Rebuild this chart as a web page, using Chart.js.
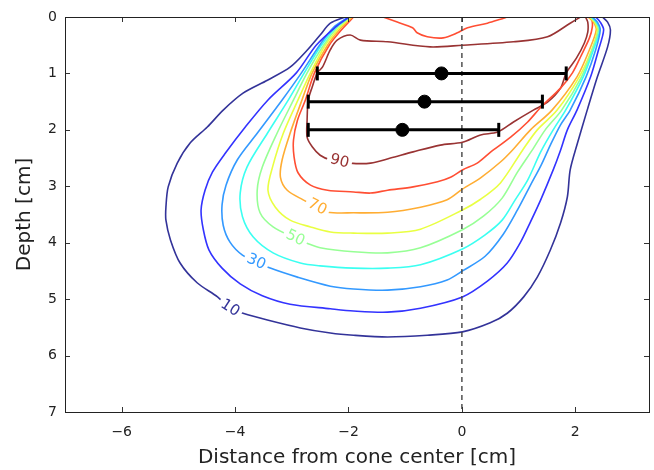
<!DOCTYPE html>
<html>
<head>
<meta charset="utf-8">
<script src="https://cdn.jsdelivr.net/npm/chart.js@4"></script>
<style>
  body { margin: 0; background: #fff; }
</style>
</head>
<body>
<canvas id="doseChart" width="654" height="470"></canvas>
<script>
// axis ticks
const xTicks = [-6, -4, -2, 0, 2];
const yTicks = [0, 1, 2, 3, 4, 5, 6, 7];

// isodose levels [%] and their colours (jet, slightly faded)
const levels = [10, 20, 30, 40, 50, 60, 70, 80, 90];
const levelColors = ['#333399', '#3333ff', '#3399ff', '#3bfff1', '#97ff95', '#e9ff42', '#ffad33', '#ff4e33', '#993333'];

// contour lines: [distance cm, depth cm]
const c10 = [[-2.06,0],[-2.32,0.11],[-2.50,0.32],[-2.73,0.59],[-3.03,0.89],[-3.43,1.12],[-3.86,1.35],[-4.21,1.65],[-4.49,1.95],[-4.79,2.23],[-5.02,2.59],[-5.18,3.01],[-5.22,3.37],[-5.22,3.60],[-5.14,3.95],[-4.97,4.36],[-4.67,4.71],[-4.31,4.96],[-4.09,5.16],[-3.86,5.25],[-3.43,5.37],[-2.85,5.51],[-2.32,5.60],[-1.91,5.64],[-1.31,5.67],[-0.61,5.64],[0.01,5.58],[0.50,5.42],[0.80,5.25],[1.09,4.96],[1.33,4.61],[1.56,4.13],[1.74,3.65],[1.86,3.19],[1.91,2.71],[2.04,2.23],[2.21,1.65],[2.39,1.06],[2.57,0.53],[2.62,0.23],[2.57,0.09],[2.48,0]];
const c20 = [[-1.99,0],[-2.23,0.18],[-2.57,0.50],[-2.92,0.99],[-3.42,1.47],[-3.82,1.95],[-4.17,2.41],[-4.40,2.75],[-4.53,3.07],[-4.60,3.42],[-4.56,3.77],[-4.46,4.13],[-4.23,4.45],[-3.91,4.73],[-3.52,4.94],[-3.03,5.09],[-2.32,5.17],[-1.91,5.21],[-1.31,5.23],[-0.73,5.16],[0.01,4.96],[0.45,4.68],[0.80,4.36],[1.03,4.00],[1.21,3.63],[1.39,3.24],[1.61,2.71],[1.74,2.36],[1.86,2.00],[2.03,1.65],[2.27,1.06],[2.41,0.58],[2.50,0.23],[2.44,0.09],[2.36,0]];
const c30 = [[-2.00,0],[-2.27,0.19],[-2.51,0.50],[-2.83,0.99],[-3.17,1.47],[-3.61,2.06],[-3.96,2.53],[-4.16,2.98],[-4.23,3.33],[-4.21,3.69],[-4.09,3.99],[-3.87,4.22],[-3.61,4.34],[-3.38,4.45],[-2.90,4.61],[-2.32,4.77],[-1.91,4.82],[-1.31,4.84],[-0.73,4.78],[-0.26,4.66],[0.01,4.50],[0.41,4.24],[0.73,3.85],[0.98,3.42],[1.21,2.98],[1.40,2.62],[1.56,2.27],[1.74,1.91],[1.91,1.65],[2.19,1.06],[2.36,0.58],[2.44,0.23],[2.39,0.09],[2.30,0]];
const c40 = [[-1.99,0],[-2.23,0.19],[-2.48,0.50],[-2.78,0.99],[-3.06,1.47],[-3.43,2.06],[-3.79,2.66],[-3.91,3.12],[-3.87,3.54],[-3.68,3.90],[-3.33,4.18],[-2.85,4.36],[-2.50,4.41],[-1.91,4.45],[-1.31,4.45],[-0.73,4.39],[0.01,4.11],[0.41,3.86],[0.71,3.60],[0.94,3.24],[1.16,2.89],[1.39,2.39],[1.61,2.00],[1.83,1.65],[2.14,1.06],[2.32,0.58],[2.43,0.23],[2.37,0.09],[2.29,0]];
const c50 = [[-1.97,0],[-2.20,0.19],[-2.44,0.50],[-2.73,0.99],[-2.97,1.47],[-3.26,2.06],[-3.52,2.66],[-3.61,3.07],[-3.56,3.47],[-3.33,3.72],[-2.94,3.92],[-2.73,4.01],[-2.50,4.09],[-1.91,4.16],[-1.31,4.18],[-0.73,4.09],[0.01,3.77],[0.38,3.53],[0.71,3.21],[0.98,2.75],[1.24,2.36],[1.47,2.00],[1.76,1.65],[2.11,1.06],[2.30,0.58],[2.41,0.23],[2.36,0.09],[2.27,0]];
const c60 = [[-1.95,0],[-2.16,0.19],[-2.41,0.50],[-2.67,0.99],[-2.89,1.47],[-3.15,2.06],[-3.34,2.66],[-3.42,3.07],[-3.29,3.37],[-3.03,3.60],[-2.67,3.72],[-2.32,3.81],[-1.91,3.83],[-1.31,3.83],[-0.73,3.76],[0.01,3.42],[0.33,3.23],[0.68,2.94],[1.07,2.36],[1.33,2.00],[1.68,1.65],[2.07,1.06],[2.29,0.58],[2.39,0.23],[2.34,0.09],[2.25,0]];
const c70 = [[-1.93,0],[-2.13,0.19],[-2.37,0.50],[-2.64,0.99],[-2.82,1.47],[-3.03,2.06],[-3.17,2.53],[-3.20,2.84],[-3.08,3.07],[-2.80,3.24],[-2.55,3.37],[-2.37,3.46],[-1.91,3.47],[-1.31,3.46],[-0.73,3.37],[-0.26,3.24],[0.01,3.05],[0.33,2.85],[0.68,2.57],[0.89,2.36],[1.21,2.00],[1.59,1.65],[2.03,1.06],[2.25,0.58],[2.37,0.23],[2.32,0.09],[2.23,0]];
const c80 = [[-1.91,0],[-2.09,0.19],[-2.34,0.50],[-2.60,0.99],[-2.76,1.47],[-2.90,1.83],[-2.97,2.18],[-2.96,2.48],[-2.89,2.76],[-2.67,2.98],[-2.37,3.07],[-1.91,3.10],[-1.61,3.12],[-1.31,3.07],[-0.86,3.01],[-0.43,2.92],[-0.20,2.84],[0.01,2.71],[0.27,2.59],[0.50,2.40],[0.86,2.13],[1.16,1.86],[1.40,1.59],[1.74,1.26],[1.95,0.99],[2.11,0.67],[2.25,0.37],[2.30,0.18],[2.29,0.05],[2.23,0]];
const c80top = [[-1.39,0],[-1.14,0.09],[-0.87,0.19],[-0.79,0.28],[-0.61,0.35],[-0.33,0.37],[-0.08,0.28],[0.10,0.19],[0.45,0.11],[0.68,0.04],[0.80,0]];
const c90 = [[2.09,0],[1.91,0.11],[1.51,0.35],[0.91,0.44],[0.01,0.50],[-0.56,0.53],[-1.31,0.44],[-1.79,0.41],[-1.97,0.32],[-2.20,0.41],[-2.32,0.58],[-2.46,0.89],[-2.55,0.99],[-2.64,1.24],[-2.71,1.47],[-2.73,1.83],[-2.73,2.13],[-2.64,2.30],[-2.50,2.45],[-2.32,2.53],[-1.97,2.59],[-1.61,2.59],[-1.26,2.50],[-0.86,2.39],[-0.38,2.27],[0.01,2.22],[0.33,2.09],[0.63,2.04],[0.91,1.86],[1.26,1.65],[1.51,1.51],[1.74,1.26],[1.84,0.99],[2.02,0.73],[2.16,0.46],[2.22,0.27],[2.22,0.09],[2.18,0]];

// inline contour labels: [level, distance, depth]
const contourLabels = [[10, -4.09, 5.16], [30, -3.63, 4.34], [50, -2.94, 3.92], [70, -2.55, 3.37], [90, -2.16, 2.56]];

// measured depths with mean and range
const barDepth = [1.0, 1.5, 2.0];
const barMean = [-0.36, -0.66, -1.05];
const barLow = [-2.55, -2.71, -2.71];
const barHigh = [1.84, 1.42, 0.65];

const contourSets = [
  { level: 10, pts: c10 }, { level: 20, pts: c20 }, { level: 30, pts: c30 },
  { level: 40, pts: c40 }, { level: 50, pts: c50 }, { level: 60, pts: c60 },
  { level: 70, pts: c70 }, { level: 80, pts: c80 }, { level: 80, pts: c80top },
  { level: 90, pts: c90 }
];

function colorFor(level) {
  return levelColors[levels.indexOf(level)];
}

const datasets = [];

// mean markers (first = drawn on top)
datasets.push({
  data: barDepth.map((d, i) => ({ x: barMean[i], y: d })),
  pointRadius: 6.5,
  pointBackgroundColor: '#000',
  pointBorderColor: '#000',
  showLine: false
});

// horizontal range bars with caps
barDepth.forEach((d, i) => {
  datasets.push({
    data: [{ x: barLow[i], y: d }, { x: barHigh[i], y: d }],
    showLine: true,
    borderColor: '#000',
    borderWidth: 3,
    pointStyle: 'line',
    rotation: 90,
    pointRadius: 7,
    pointBorderWidth: 3,
    pointBorderColor: '#000'
  });
});

// beam axis
datasets.push({
  data: [{ x: 0, y: 0 }, { x: 0, y: 7 }],
  showLine: true,
  borderColor: '#444',
  borderWidth: 1.4,
  borderDash: [5, 4],
  pointRadius: 0
});

contourSets.forEach(c => {
  datasets.push({
    level: c.level,
    data: c.pts.map(p => ({ x: p[0], y: p[1] })),
    showLine: true,
    borderColor: colorFor(c.level),
    borderWidth: 1.6,
    tension: 0.3,
    pointRadius: 0
  });
});

const tickFont = { family: 'DejaVu Sans', size: 14 };
const titleFont = { family: 'DejaVu Sans', size: 20 };

const framePlugin = {
  id: 'frame',
  afterDatasetsDraw(chart) {
    const ctx = chart.ctx;
    const xs = chart.scales.x, ys = chart.scales.y;
    ctx.save();
    ctx.font = '15px "DejaVu Sans"';
    contourLabels.forEach(([level, lx, ly]) => {
      const set = contourSets.find(c => c.level === level);
      const px = xs.getPixelForValue(lx), py = ys.getPixelForValue(ly);
      // direction of the contour next to the label
      let best = 0, bestD = Infinity;
      set.pts.forEach((p, i) => {
        const d = Math.hypot(xs.getPixelForValue(p[0]) - px, ys.getPixelForValue(p[1]) - py);
        if (d < bestD) { bestD = d; best = i; }
      });
      const a = set.pts[Math.max(best - 1, 0)], b = set.pts[Math.min(best + 1, set.pts.length - 1)];
      let ang = Math.atan2(ys.getPixelForValue(b[1]) - ys.getPixelForValue(a[1]),
                           xs.getPixelForValue(b[0]) - xs.getPixelForValue(a[0]));
      if (ang > Math.PI / 2) ang -= Math.PI;
      if (ang < -Math.PI / 2) ang += Math.PI;
      const text = String(level);
      const w = ctx.measureText(text).width;
      ctx.save();
      ctx.translate(px, py);
      ctx.rotate(ang);
      ctx.fillStyle = '#fff';
      ctx.fillRect(-w / 2 - 3, -6, w + 6, 12);
      ctx.fillStyle = colorFor(level);
      ctx.textAlign = 'center';
      ctx.textBaseline = 'middle';
      ctx.fillText(text, 0, 0);
      ctx.restore();
    });
    ctx.restore();
  },
  afterDraw(chart) {
    const ctx = chart.ctx;
    const a = chart.chartArea;
    const xs = chart.scales.x, ys = chart.scales.y;
    ctx.save();
    ctx.strokeStyle = '#333';
    ctx.lineWidth = 1;
    ctx.beginPath();
    xTicks.forEach(v => {
      const x = Math.round(xs.getPixelForValue(v)) + 0.5;
      ctx.moveTo(x, a.bottom); ctx.lineTo(x, a.bottom - 5);
      ctx.moveTo(x, a.top); ctx.lineTo(x, a.top + 5);
    });
    yTicks.forEach(v => {
      const y = Math.round(ys.getPixelForValue(v)) + 0.5;
      ctx.moveTo(a.left, y); ctx.lineTo(a.left + 5, y);
      ctx.moveTo(a.right, y); ctx.lineTo(a.right - 5, y);
    });
    ctx.stroke();
    ctx.strokeStyle = '#222';
    ctx.strokeRect(Math.round(a.left) + 0.5, Math.round(a.top) + 0.5,
                   Math.round(a.right - a.left), Math.round(a.bottom - a.top));
    ctx.restore();
  }
};

const fmt = v => (v < 0 ? '\u2212' + Math.abs(v) : String(v));

new Chart(document.getElementById('doseChart').getContext('2d'), {
  type: 'scatter',
  data: { datasets },
  options: {
    responsive: false,
    animation: false,
    devicePixelRatio: 1,
    layout: { autoPadding: false, padding: { top: 17, right: 5, left: 0, bottom: 0 } },
    plugins: { legend: { display: false }, tooltip: { enabled: false } },
    scales: {
      x: {
        type: 'linear',
        min: -7,
        max: 3.3,
        grid: { display: false, drawTicks: false },
        border: { display: false },
        afterFit: s => { s.height = 58; s.paddingLeft = 0; s.paddingRight = 0; },
        afterBuildTicks: s => { s.ticks = xTicks.map(v => ({ value: v })); },
        ticks: { padding: 12, font: tickFont, color: '#222', callback: fmt },
        title: { display: true, text: 'Distance from cone center [cm]', font: titleFont, color: '#222', padding: { top: 0, bottom: 0 } }
      },
      y: {
        type: 'linear',
        reverse: true,
        min: 0,
        max: 7,
        grid: { display: false, drawTicks: false },
        border: { display: false },
        afterFit: s => { s.width = 65; s.paddingTop = 0; s.paddingBottom = 0; },
        afterBuildTicks: s => { s.ticks = yTicks.map(v => ({ value: v })); },
        ticks: { padding: 8, font: tickFont, color: '#222', callback: fmt },
        title: { display: true, text: 'Depth [cm]', font: titleFont, color: '#222', padding: { top: 13, bottom: 0 } }
      }
    }
  },
  plugins: [framePlugin]
});
</script>
</body>
</html>
